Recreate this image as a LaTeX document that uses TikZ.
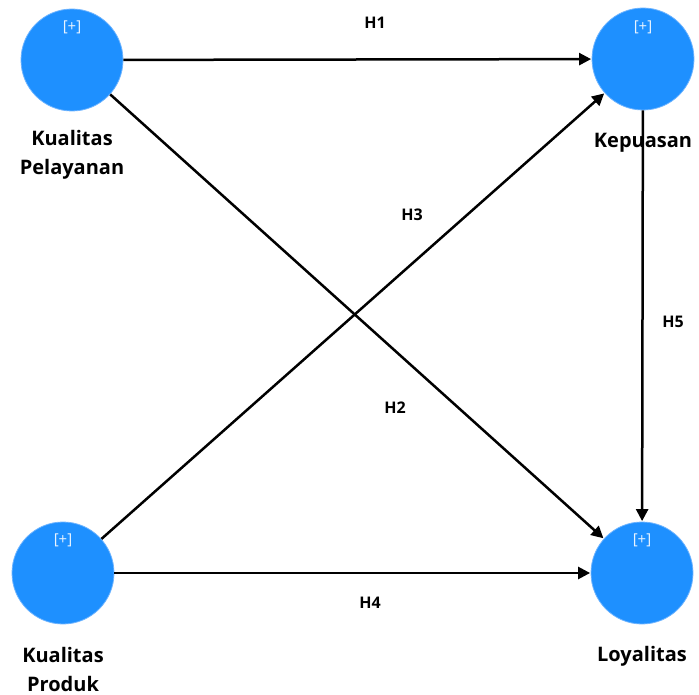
\documentclass[tikz,border=0pt]{standalone}
\usepackage{fontspec}
\setmainfont{Open Sans}
\usetikzlibrary{arrows.meta}
\definecolor{lvblue}{RGB}{30,144,255}
\definecolor{lvedge}{RGB}{110,180,255}
\tikzset{
  lv/.style={circle, fill=lvblue, draw=lvedge, line width=0.8pt, minimum size=102pt, inner sep=0pt},
  plus/.style={text=white!90!lvblue, font=\fontsize{15}{17}\selectfont},
  lvlabel/.style={font=\bfseries\fontsize{20}{29}\selectfont, align=center, text=black},
  path/.style={line width=2.5pt, -{Triangle[length=12pt,width=12pt]}, shorten >=0.5pt},
  hlabel/.style={font=\bfseries\fontsize{16}{19}\selectfont}
}
\begin{document}
\begin{tikzpicture}[x=1pt,y=-1pt]
\useasboundingbox (0,0) rectangle (699,695);
\node[lv] (kp) at (72,60) {};
\node[lv] (kep) at (643,59) {};
\node[lv] (kpr) at (63,573) {};
\node[lv] (loy) at (642,573) {};
\node[plus] (kpplus) at (72,27) {[+]};
\node[plus] (kepplus) at (643,27) {[+]};
\node[plus] (kprplus) at (63,540) {[+]};
\node[plus] (loyplus) at (642,540) {[+]};
\node[lvlabel] (kpl) at (72,155) {Kualitas\\Pelayanan};
\node[lvlabel] (kepl) at (643,143) {Kepuasan};
\node[lvlabel] (kprl) at (63,669) {Kualitas\\Produk};
\node[lvlabel] (loyl) at (642,656) {Loyalitas};
\draw[path] (kp) -- (kep);
\draw[path] (kp) -- (loy);
\draw[path] (kpr) -- (kep);
\draw[path] (kpr) -- (loy);
\draw[path] (kep) -- (loy);
\node[hlabel] (h1) at (375,23) {H1};
\node[hlabel] (h2) at (395,408) {H2};
\node[hlabel] (h3) at (412,215) {H3};
\node[hlabel] (h4) at (370,603) {H4};
\node[hlabel] (h5) at (673,322) {H5};
\end{tikzpicture}
\end{document}
